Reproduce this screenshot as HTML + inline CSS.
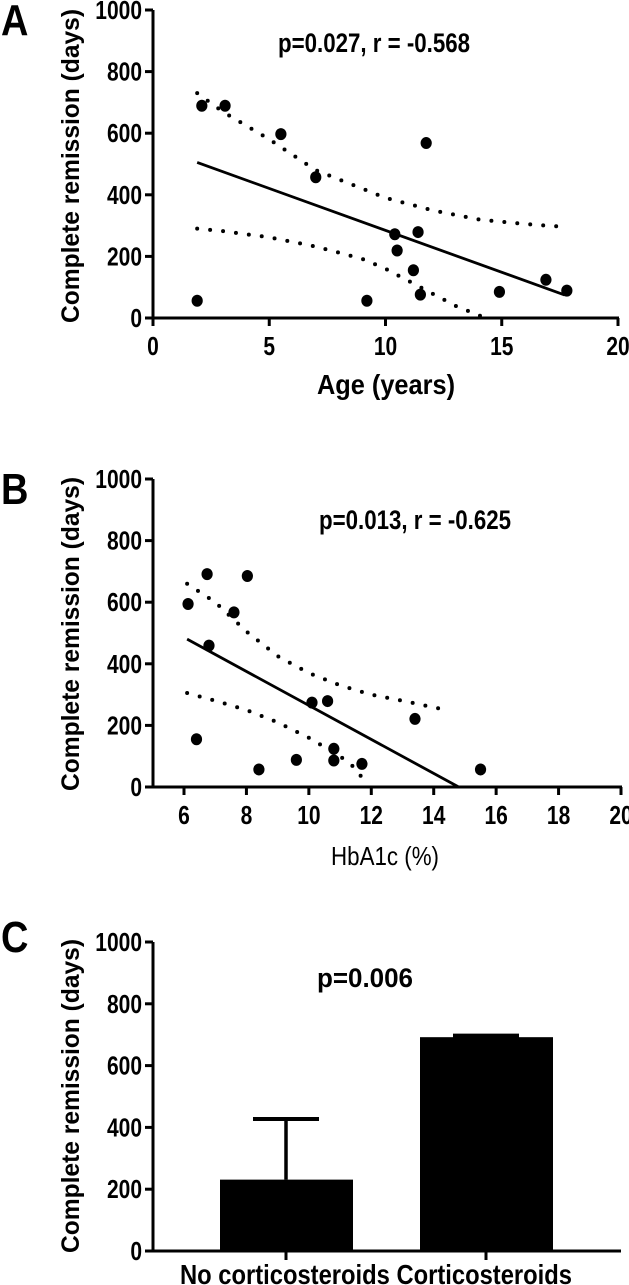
<!DOCTYPE html>
<html><head><meta charset="utf-8"><style>
html,body{margin:0;padding:0;background:#fff;}
svg{display:block;font-family:"Liberation Sans",Arial,sans-serif;}
</style></head><body>
<svg id="fig" width="629" height="1285" viewBox="0 0 629 1285"></svg>
<script>
// Panel A data
const ageX = [1.9,2.1,3.1,5.5,7.0,11.75,10.4,11.4,10.5,11.2,9.2,11.5,14.9,16.9,17.8];
const ageY = [56,689,689,597,457,568,272,279,219,155,56,76,85,124,89];
const ageFit = [[1.9,505],[17.7,75]];
const ageUpperX = [1.9,3,5,7,9,10,12,14,16,17.5];
const ageUpperY = [730,670,580,480,420,390,350,320,305,297];
const ageLowerX = [1.9,3,5,7,9,10,11,12,13,14.3];
const ageLowerY = [290,282,262,232,192,160,120,80,40,0];
const ageTicksX = [0,5,10,15,20];
// Panel B data
const hbX = [6.13,6.74,8.03,7.6,6.8,6.4,8.4,9.6,10.1,10.6,10.8,10.8,11.7,13.4,15.5];
const hbY = [594,691,685,567,459,155,57,88,274,279,124,86,75,221,57];
const hbFit = [[6.1,480],[14.8,0]];
const hbUpperX = [6.1,7,8,9,10,11,12,13,14.4];
const hbUpperY = [660,600,505,425,370,330,300,280,250];
const hbLowerX = [6.1,7,8,9,10,11,11.5,11.7];
const hbLowerY = [305,280,250,210,160,100,60,30];
const hbTicksX = [6,8,10,12,14,16,18,20];
// Panel C data
const cCats = ["No corticosteroids","Corticosteroids"];
const cVals = [231,692];
const cErr = [427,697];
const yTicks = [0,200,400,600,800,1000];

const NS="http://www.w3.org/2000/svg";
const svg=document.getElementById('fig');
function el(tag,attrs,parent,txt){const e=document.createElementNS(NS,tag);for(const k in attrs)e.setAttribute(k,attrs[k]);if(txt!==undefined)e.textContent=txt;(parent||svg).appendChild(e);return e;}
function tx(g,x,y,str,size,anchor,bold,sy,extra){
  const a={x:0,y:0,transform:`translate(${x},${y}) scale(1,${sy})`,'text-anchor':anchor,'font-size':size};
  if(bold)a['font-weight']='bold';
  if(extra)for(const k in extra)a[k]=extra[k];
  return el('text',a,g,str);
}

function axesY(g,ys,x0){
  el('line',{x1:x0,y1:ys(0),x2:x0,y2:ys(1000)+0,stroke:'#000','stroke-width':3},g);
  yTicks.forEach(t=>{
    const tk=el('line',{x1:x0-8,y1:ys(t),x2:x0,y2:ys(t),stroke:'#000','stroke-width':3},g);
    
    const lb=tx(g,x0-11,ys(t)+9,String(t),21,'end',true,1.22);
    
  });
}
function yTitle(g,cx,cy){
  const t=el('text',{x:0,y:0,transform:`translate(${cx},${cy}) rotate(-90)`,'text-anchor':'middle','font-size':25,'font-weight':'bold',textLength:314,lengthAdjust:'spacingAndGlyphs'},g,'Complete remission (days)');
  
}
function dotted(g,xs,ys,X,Y,name){
  const d=X.map((v,i)=>(i?'L':'M')+xs(v)+' '+ys(Y[i])).join(' ');
  const p=el('path',{d:d,fill:'none',stroke:'#000','stroke-width':4,'stroke-linecap':'round','stroke-dasharray':'0 13'},g);
  
}
function scatterPanel(opts){
  const g=el('g',{});
  
  const xs=v=>opts.px0+(v-opts.xmin)/(opts.xmax-opts.xmin)*(opts.px1-opts.px0);
  const ys=v=>opts.py0-(v/1000)*(opts.py0-opts.py1);
  axesY(g,ys,153);
  el('line',{x1:153,y1:opts.py0,x2:opts.px1+1,y2:opts.py0,stroke:'#000','stroke-width':3},g);
  opts.ticks.forEach(t=>{
    const tk=el('line',{x1:xs(t),y1:opts.py0,x2:xs(t),y2:opts.py0+8,stroke:'#000','stroke-width':3},g);
    
    const lb=tx(g,xs(t),opts.py0+37,String(t),21,'middle',true,1.22);
    
  });
  dotted(g,xs,ys,opts.ux,opts.uy,'upper-confidence-band');
  dotted(g,xs,ys,opts.lx,opts.ly,'lower-confidence-band');
  const fl=el('line',{x1:xs(opts.fit[0][0]),y1:ys(opts.fit[0][1]),x2:xs(opts.fit[1][0]),y2:ys(opts.fit[1][1]),stroke:'#000','stroke-width':2.8},g);
  
  opts.X.forEach((v,i)=>{
    const c=el('ellipse',{cx:xs(v),cy:ys(opts.Y[i]),rx:5.6,ry:6,fill:'#000'},g);
    
  });
  return g;
}
let t;
// Panel A
const gA=scatterPanel({name:'panel-a',px0:153,px1:618,xmin:0,xmax:20,py0:318,py1:10,X:ageX,Y:ageY,fit:ageFit,ux:ageUpperX,uy:ageUpperY,lx:ageLowerX,ly:ageLowerY,ticks:ageTicksX});
yTitle(gA,79,166);
t=tx(gA,1,35,'A',38,'start',true,1.15);
t=tx(gA,374,52,'p=0.027, r = -0.568',22,'middle',true,1.22,{textLength:192,lengthAdjust:'spacingAndGlyphs'});
t=tx(gA,386,394,'Age (years)',23,'middle',true,1.22,{textLength:138,lengthAdjust:'spacingAndGlyphs'});
// Panel B
const gB=scatterPanel({name:'panel-b',px0:184,px1:621,xmin:6,xmax:20,py0:787,py1:479,X:hbX,Y:hbY,fit:hbFit,ux:hbUpperX,uy:hbUpperY,lx:hbLowerX,ly:hbLowerY,ticks:hbTicksX});
yTitle(gB,79,634);
t=tx(gB,1,504,'B',38,'start',true,1.15);
t=tx(gB,415,529,'p=0.013, r = -0.625',22,'middle',true,1.22,{textLength:192,lengthAdjust:'spacingAndGlyphs'});
t=tx(gB,385,865,'HbA1c (%)',21,'middle',false,1.22,{textLength:108,lengthAdjust:'spacingAndGlyphs'});
// Panel C
const gC=el('g',{});

const ysC=v=>1251-(v/1000)*(1251-942);
const xc=i=>286+i*200;
axesY(gC,ysC,153);
el('line',{x1:153,y1:1251,x2:621,y2:1251,stroke:'#000','stroke-width':3},gC);
cCats.forEach((c,i)=>{
  const b=el('rect',{x:xc(i)-66,y:ysC(cVals[i]),width:133,height:ysC(0)-ysC(cVals[i]),fill:'#000'},gC);
  
  const e=el('line',{x1:xc(i),y1:ysC(cVals[i]),x2:xc(i),y2:ysC(cErr[i]),stroke:'#000','stroke-width':3.5},gC);
  
  const cap=el('line',{x1:xc(i)-33,y1:ysC(cErr[i]),x2:xc(i)+33,y2:ysC(cErr[i]),stroke:'#000','stroke-width':4},gC);
  
  const tk=el('line',{x1:xc(i),y1:1251,x2:xc(i),y2:1260,stroke:'#000','stroke-width':3},gC);
  
});
t=tx(gC,180,1284,'No corticosteroids Corticosteroids',23,'start',true,1.2,{textLength:392,lengthAdjust:'spacingAndGlyphs'});
yTitle(gC,79,1096);
t=tx(gC,1,952,'C',38,'start',true,1.15);
t=tx(gC,365,987,'p=0.006',22,'middle',true,1.22,{textLength:96,lengthAdjust:'spacingAndGlyphs'});
</script>
</body></html>
